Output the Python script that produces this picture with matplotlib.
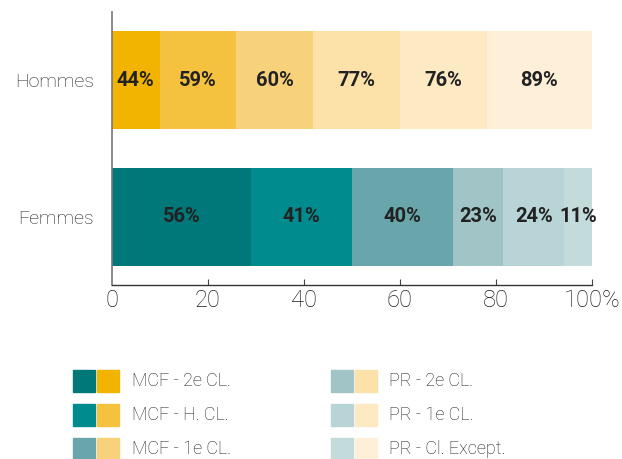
import numpy as np
import matplotlib
matplotlib.use("Agg")
import matplotlib.pyplot as plt
from matplotlib.patches import Rectangle

plt.rcParams['font.family'] = ['Roboto', 'DejaVu Sans']

groups = ["Femmes", "Hommes"]
categories = ["MCF - 2e CL.", "MCF - H. CL.", "MCF - 1e CL.",
              "PR - 2e CL.", "PR - 1e CL.", "PR - Cl. Except."]

# width of each segment (share of the group, %)
hommes_widths = [9.9, 15.9, 16.1, 18.1, 18.1, 21.9]
femmes_widths = [28.9, 21.1, 21.0, 10.5, 12.7, 5.8]
# printed labels (share of that sex in the category)
hommes_labels = ["44%", "59%", "60%", "77%", "76%", "89%"]
femmes_labels = ["56%", "41%", "40%", "23%", "24%", "11%"]

teal = ["#007779", "#008c8e", "#68a6ab", "#a1c4c7", "#b9d4d6", "#c3dbdb"]
yellow = ["#f2b400", "#f5c240", "#f8d27b", "#fce2a8", "#fde9c2", "#fef0d8"]

xticks = [0, 20, 40, 60, 80, 100]
xticklabels = ["0", "20", "40", "60", "80", "100%"]

W, H = 622, 459
fig = plt.figure(figsize=(W / 100, H / 100), dpi=100)


def fx(x):
    return x / W


def fy(y):
    return 1 - y / H


ax = fig.add_axes([fx(112), fy(285), fx(592) - fx(112), fy(12) - fy(285)])

rows = [(0, femmes_widths, femmes_labels, teal),
        (1, hommes_widths, hommes_labels, yellow)]
for ypos, widths, labels, cols in rows:
    left = 0
    for w, lab, c in zip(widths, labels, cols):
        ax.barh(ypos, w, left=left, height=0.72, color=c, edgecolor='none')
        ax.text(left + w / 2, ypos, lab, ha='center', va='center',
                fontsize=14.5, fontweight='bold', color='#222222')
        left += w

ax.set_xlim(0, 100)
ax.set_ylim(-0.5, 1.5)
ax.set_yticks([0, 1])
ax.set_yticklabels(groups, fontsize=14, fontweight='light', color='#1e1e1e')
ax.tick_params(axis='y', length=0, pad=13)
ax.set_xticks(xticks)
ax.set_xticklabels(xticklabels, fontsize=17, fontweight='light', color='#1e1e1e')
ax.tick_params(axis='x', direction='in', length=4.5, width=0.8, color='#444444', pad=3)
ax.get_xticklines()[0].set_visible(False)
for s in ['top', 'right']:
    ax.spines[s].set_visible(False)
ax.spines['left'].set_color('#777777')
ax.spines['left'].set_linewidth(1.2)
ax.spines['bottom'].set_color('#333333')
ax.spines['bottom'].set_linewidth(1.0)

# legend: two swatches (femmes, hommes) + label, in two columns
sq = 22
col_x = [72.7, 330.7]
text_x = [131.7, 389.3]
row_y = [370, 404, 438]
for i, name in enumerate(categories):
    col, row = divmod(i, 3)
    x0 = col_x[col]
    y0 = row_y[row]
    fig.patches.append(Rectangle((fx(x0), fy(y0 + sq)), sq / W, sq / H,
                                 transform=fig.transFigure, color=teal[i]))
    fig.patches.append(Rectangle((fx(x0 + 24.5), fy(y0 + sq)), sq / W, sq / H,
                                 transform=fig.transFigure, color=yellow[i]))
    fig.text(fx(text_x[col]), fy(y0 + sq / 2), name, ha='left', va='center',
             fontsize=13, fontweight='light', color='#1e1e1e')

fig.savefig("out.png", dpi=100)
